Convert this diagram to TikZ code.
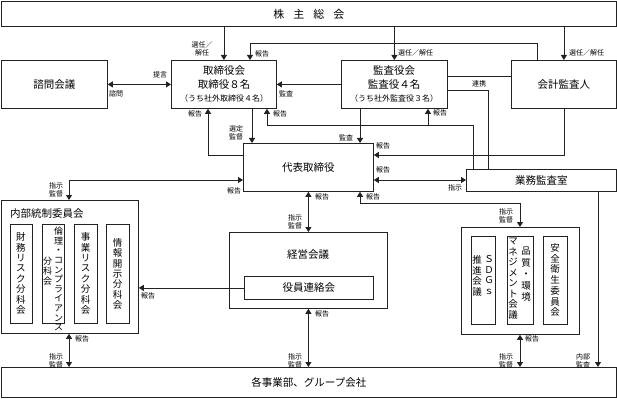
\documentclass[tikz,border=0pt]{standalone}
\usepackage{fontspec}
\setmainfont{Noto Sans CJK JP}
\usetikzlibrary{arrows.meta}
\definecolor{ln}{HTML}{222222}
\begin{document}
\begin{tikzpicture}[x=1pt,y=-1pt]
\tikzset{
 bx/.style={draw=ln, line width=0.8pt, anchor=north west, inner sep=0pt, align=center},
 lab/.style={font=\fontsize{7}{8}\selectfont, inner sep=0pt, align=center},
 main/.style={font=\fontsize{10.5}{12}\selectfont, inner sep=0pt},
 sm/.style={font=\fontsize{8}{9}\selectfont, inner sep=0pt},
 con/.style={draw=ln, line width=0.8pt},
 arr/.style={con, -{Triangle[length=5pt,width=6pt]}},
 arrb/.style={con, {Triangle[length=5pt,width=6pt]}-{Triangle[length=5pt,width=6pt]}},
 vt/.style={align=center, inner sep=0pt},
}
\useasboundingbox (0,0) rectangle (617,398);

% boxes
\node[bx, minimum width=615pt, minimum height=25pt, font=\fontsize{11}{12}\selectfont] (sh) at (1,1) {株\hspace{9pt}主\hspace{9pt}総\hspace{9pt}会};
\node[bx, minimum width=106pt, minimum height=48pt, main] (shimon) at (1,60) {諮問会議};
\node[bx, minimum width=105pt, minimum height=48pt] (tori) at (171,60) {};
\node[main] (toriA) at (224,71) {取締役会};
\node[main] (toriB) at (224,85) {取締役８名};
\node[sm] (toriC) at (224,98) {（うち社外取締役４名）};
\node[bx, minimum width=106pt, minimum height=48pt] (kansa) at (341,60) {};
\node[main] (kansaA) at (394,71) {監査役会};
\node[main] (kansaB) at (394,85) {監査役４名};
\node[sm] (kansaC) at (394,98) {（うち社外監査役３名）};
\node[bx, minimum width=105pt, minimum height=48pt, main] (kaikei) at (511,60) {会計監査人};
\node[bx, minimum width=130pt, minimum height=48pt, main] (daihyo) at (243,143) {代表取締役};
\node[bx, minimum width=150pt, minimum height=22pt, main] (gyomu) at (466,169) {業務監査室};

\node[bx, minimum width=137pt, minimum height=133pt] (naibu) at (1,200) {};
\node[main, anchor=west] (naibuT) at (10,214) {内部統制委員会};
\node[bx, minimum width=22pt, minimum height=99pt] (n1) at (10,224) {};
\node[bx, minimum width=22pt, minimum height=99pt] (n2) at (42,224) {};
\node[bx, minimum width=23pt, minimum height=99pt] (n3) at (74,224) {};
\node[bx, minimum width=23pt, minimum height=99pt] (n4) at (106,224) {};
\node[vt, font=\fontsize{9.5}{10.4}\selectfont] (n1t) at (21,273.5) {財\\務\\リ\\ス\\ク\\分\\科\\会};
\node[vt, font=\fontsize{9}{9.6}\selectfont, anchor=north] (n2a) at (58.5,227) {倫\\理\\・\\コ\\ン\\プ\\ラ\\イ\\ア\\ン\\ス};
\node[vt, font=\fontsize{9}{9.8}\selectfont, anchor=north] (n2b) at (47.5,257) {分\\科\\会};
\node[vt, font=\fontsize{9.5}{10.4}\selectfont] (n3t) at (85.5,273.5) {事\\業\\リ\\ス\\ク\\分\\科\\会};
\node[vt, font=\fontsize{9.5}{10.4}\selectfont] (n4t) at (117.5,274) {情\\報\\開\\示\\分\\科\\会};

\node[bx, minimum width=158pt, minimum height=76pt] (keiei) at (229,232) {};
\node[main] (keieiT) at (308,255) {経営会議};
\node[bx, minimum width=129pt, minimum height=23pt, main] (yakuin) at (244,276) {役員連絡会};

\node[bx, minimum width=118pt, minimum height=107pt] (rc) at (461,227) {};
\node[bx, minimum width=24pt, minimum height=88pt] (r1) at (471,236) {};
\node[bx, minimum width=26pt, minimum height=88pt] (r2) at (507,236) {};
\node[bx, minimum width=24pt, minimum height=88pt] (r3) at (543,236) {};
\node[vt, font=\fontsize{9.5}{10.8}\selectfont, anchor=north] (r1a) at (489,255) {Ｓ\\Ｄ\\Ｇ\\ｓ};
\node[vt, font=\fontsize{9.5}{10.8}\selectfont, anchor=north] (r1b) at (477,255) {推\\進\\会\\議};
\node[vt, font=\fontsize{9.5}{11.5}\selectfont, anchor=north] (r2a) at (526,247) {品\\質\\・\\環\\境};
\node[vt, font=\fontsize{9.5}{10.5}\selectfont, anchor=north] (r2b) at (513,238) {マ\\ネ\\ジ\\メ\\ン\\ト\\会\\議};
\node[vt, font=\fontsize{9.5}{10.7}\selectfont] (r3t) at (555,280) {安\\全\\衛\\生\\委\\員\\会};

\node[bx, minimum width=615pt, minimum height=30pt, main] (bottom) at (1,367) {各事業部、グループ会社};

% bend coordinates
\coordinate (k1) at (537,43); \coordinate (k2) at (250,43);
\coordinate (c76) at (0,76);
\coordinate (g1) at (488,90);
\coordinate (h1) at (473,125); \coordinate (h2) at (267,125); \coordinate (h3) at (428,125);
\coordinate (d1) at (208,155);
\coordinate (t1) at (252,0);
\coordinate (m1) at (360,0);
\coordinate (a1) at (564,155);
\coordinate (y180) at (0,180);
\coordinate (b1) at (598,0);
\coordinate (n0) at (69,180);
\coordinate (e1) at (360,203); \coordinate (e2) at (520,203);

% connectors
\draw[arr] (sh.south -| tori.north) -- (tori.north);
\draw[arr] (sh.south -| kansa.north) -- (kansa.north);
\draw[arr] (sh.south -| kaikei.north) -- (kaikei.north);
\draw[arr] (kaikei.north -| k1) -- (k1) -- (k2) -- (tori.north -| k2);
\draw[arr] (kansa.west) -- (tori.east);
\draw[arrb] (shimon.east) -- (tori.west);
\draw[con] (kansa.east |- c76) -- (kaikei.west |- c76);
\draw[con] (kansa.east |- g1) -- (g1) -- (gyomu.north -| g1);
\draw[arr] (gyomu.north -| h1) -- (h1) -- (h2) -- (tori.south -| h2);
\draw[arr] (h3) -- (kansa.south -| h3);
\draw[arr] (daihyo.west |- d1) -- (d1) -- (tori.south -| d1);
\draw[arr] (tori.south -| t1) -- (daihyo.north -| t1);
\draw[arr] (kansa.south -| m1) -- (daihyo.north -| m1);
\draw[arr] (kaikei.south -| a1) -- (a1) -- (daihyo.east |- a1);
\draw[arrb] (daihyo.east |- y180) -- (gyomu.west |- y180);
\draw[arr] (gyomu.south -| b1) -- (bottom.north -| b1);
\draw[arrb] (naibu.north -| n0) -- (n0) -- (daihyo.west |- n0);
\draw[arrb] (daihyo.south) -- (keiei.north);
\draw[arrb] (daihyo.south -| e1) -- (e1) -- (e2) -- (rc.north -| e2);
\draw[arr] (yakuin.west) -- (naibu.east |- yakuin.west);
\draw[arrb] (keiei.south) -- (bottom.north -| keiei.south);
\draw[arrb] (naibu.south -| n0) -- (bottom.north -| n0);
\draw[arrb] (rc.south -| e2) -- (bottom.north -| e2);

% labels
\node[lab] (l1) at (202,49) {選任／\\解任};
\node[lab, anchor=west] (l2) at (255,54) {報告};
\node[lab, anchor=west] (l3) at (398,53) {選任／解任};
\node[lab, anchor=west] (l4) at (569,53) {選任／解任};
\node[lab] (l5) at (160,75) {提言};
\node[lab] (l6) at (116,94) {諮問};
\node[lab] (l7) at (286,94) {監査};
\node[lab] (l8) at (195,114) {報告};
\node[lab] (l9) at (280,114) {報告};
\node[lab] (l10) at (479,84) {連携};
\node[lab] (l11) at (440,113) {報告};
\node[lab] (l12) at (236,133) {選定\\監督};
\node[lab] (l13) at (346,138) {監査};
\node[lab] (l14) at (383,146) {報告};
\node[lab] (l15) at (383,170) {報告};
\node[lab] (l16) at (455,188) {指示};
\node[lab] (l17) at (373,197) {報告};
\node[lab] (l18) at (322,197) {報告};
\node[lab] (l19) at (295,222) {指示\\監督};
\node[lab] (l20) at (56,190) {指示\\監督};
\node[lab] (l21) at (234,191) {報告};
\node[lab] (l22) at (506,216) {指示\\監督};
\node[lab] (l23) at (148,296) {報告};
\node[lab] (l24) at (82,339) {報告};
\node[lab] (l25) at (56,361) {指示\\監督};
\node[lab] (l26) at (322,314) {報告};
\node[lab] (l27) at (295,361) {指示\\監督};
\node[lab] (l28) at (532,339) {報告};
\node[lab] (l29) at (506,361) {指示\\監督};
\node[lab] (l30) at (583,361) {内部\\監査};
\end{tikzpicture}
\end{document}
